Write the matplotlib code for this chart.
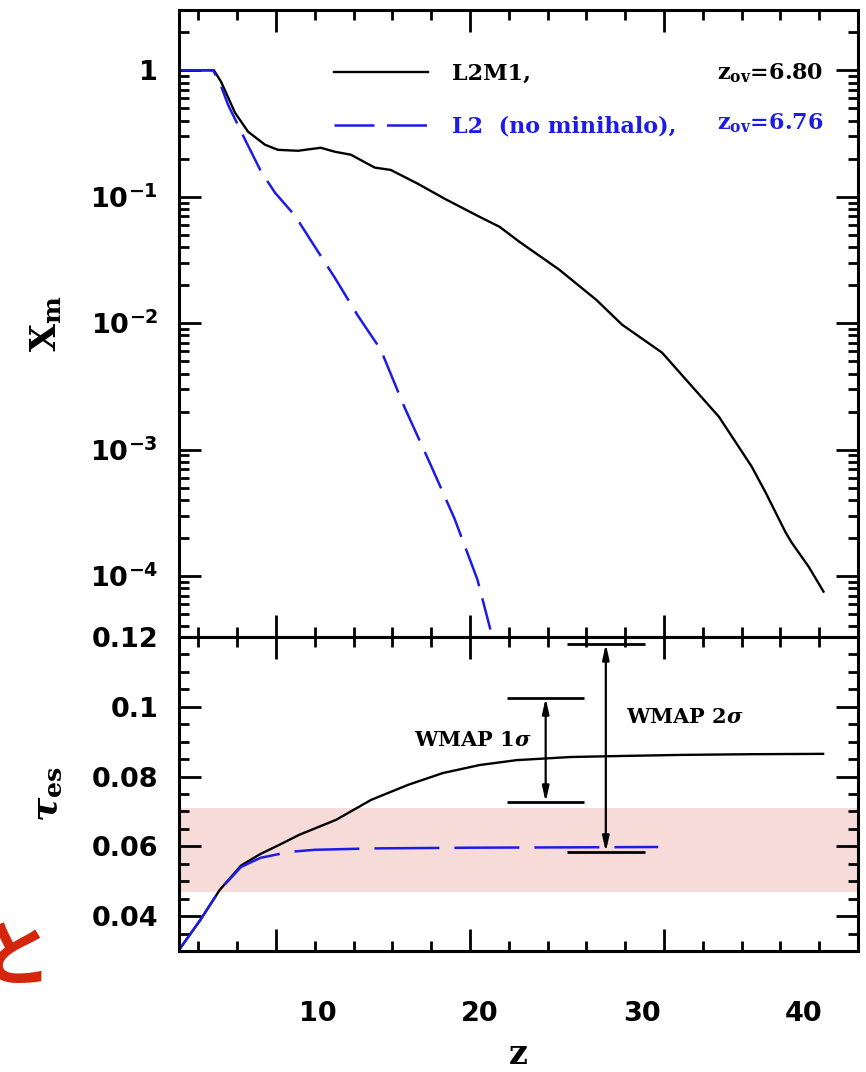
import numpy as np
import matplotlib
matplotlib.use('Agg')
import matplotlib.pyplot as plt
from matplotlib.ticker import MultipleLocator, LogLocator, FuncFormatter, NullFormatter

plt.rcParams['font.family'] = 'DejaVu Sans'
plt.rcParams['font.weight'] = 'bold'
plt.rcParams['mathtext.fontset'] = 'custom'
plt.rcParams['mathtext.rm'] = 'DejaVu Serif'
plt.rcParams['mathtext.it'] = 'DejaVu Serif:italic'
plt.rcParams['mathtext.bf'] = 'DejaVu Serif:bold'
plt.rcParams['mathtext.sf'] = 'DejaVu Sans:bold'

# X_m vs z (top panel)
z_xm_l2m1 = [5.0, 6.8, 7.17, 7.89, 8.56, 9.43, 10.1, 11.13, 12.31, 13.03, 13.86,
             15.09, 15.91, 17.3, 18.69, 20.38, 21.52, 22.54, 24.6, 26.5, 27.84,
             29.9, 31.13, 32.83, 33.5, 34.52, 35.24, 36.27, 36.58, 37.45, 38.22]
xm_l2m1 = [1.0, 1.0, 0.81, 0.461, 0.327, 0.258, 0.235, 0.231, 0.244, 0.227, 0.215,
           0.170, 0.163, 0.127, 0.0965, 0.0708, 0.0579, 0.0441, 0.0265, 0.01534, 0.00973,
           0.00585, 0.00358, 0.00182, 1.27e-3, 7.34e-4, 4.57e-4, 2.21e-4, 1.84e-4, 1.19e-4, 7.54e-5]

z_xm_l2 = [5.0, 6.76, 7.1, 7.53, 8.41, 9.23, 9.95, 10.98, 12.0, 13.03, 14.22,
           15.4, 16.63, 17.97, 19.2, 20.38, 21.05]
xm_l2 = [1.0, 1.0, 0.80, 0.533, 0.282, 0.158, 0.1076, 0.0708, 0.0403, 0.0229, 0.01146,
         0.00617, 0.00215, 7.6e-4, 2.85e-4, 9.4e-5, 3.78e-5]

# tau_es vs z (bottom panel)
z_tau_l2m1 = [5.0, 6.1, 7.1, 8.2, 9.2, 10.2, 11.2, 13.1, 14.9, 16.8, 18.6, 20.5,
              22.4, 25.2, 27.9, 30.9, 34.5, 38.2]
tau_l2m1 = [0.0303, 0.0389, 0.0475, 0.0545, 0.0578, 0.0605, 0.0633, 0.0676, 0.0733,
            0.0776, 0.0810, 0.0833, 0.0847, 0.0856, 0.0859, 0.0862, 0.0864, 0.0865]

z_tau_l2 = [5.0, 6.1, 7.1, 8.2, 9.2, 10.7, 12.0, 15.0, 20.0, 25.0, 29.7]
tau_l2 = [0.0303, 0.0389, 0.0475, 0.0541, 0.0567, 0.0584, 0.0590, 0.0594, 0.0596,
          0.0597, 0.0598]

band_lo, band_hi = 0.047, 0.071

# WMAP ranges: z position, low, high, cap half width
wmap_z = [23.9, 27.0]
wmap_lo = [0.0727, 0.0584]
wmap_hi = [0.1025, 0.118]
cap_half = 2.0
wmap_text = [r'WMAP 1$\sigma$', r'WMAP 2$\sigma$']
wmap_text_z = [17.1, 28.05]
wmap_text_tau = [0.0905, 0.0971]

zov_labels = [r'$\mathbf{z_{ov}}$=6.80', r'$\mathbf{z_{ov}}$=6.76']
xtick_vals = [10, 20, 30, 40]

blue = '#1c1ce6'
serif_bold = dict(family='DejaVu Serif', weight='bold')

fig = plt.figure(figsize=(8.66, 10.72), dpi=100)
ax1 = fig.add_axes([0.2067, 0.4058, 0.7841, 0.5849])
ax2 = fig.add_axes([0.2067, 0.1129, 0.7841, 0.2929])

# top panel
ax1.plot(z_xm_l2m1, xm_l2m1, color='k', lw=1.7, label='L2M1,')
ax1.plot(z_xm_l2, xm_l2, color=blue, lw=1.8, dashes=(16, 5), label='L2  (no minihalo),')
ax1.set_yscale('log')
ax1.set_xlim(5, 40)
ax1.set_ylim(3.3e-5, 3.0)
ax1.yaxis.set_major_locator(LogLocator(base=10, numticks=12))
ax1.yaxis.set_minor_locator(LogLocator(base=10, subs=np.arange(2, 10), numticks=12))
ax1.yaxis.set_minor_formatter(NullFormatter())


def xm_fmt(v, pos):
    e = int(round(np.log10(v)))
    return '1' if e == 0 else r'$\mathsf{10^{%d}}$' % e


ax1.yaxis.set_major_formatter(FuncFormatter(xm_fmt))
ax1.set_ylabel(r'$\mathbf{X_m}$', fontsize=26)

leg = ax1.legend(loc='upper left', bbox_to_anchor=(0.228, 0.916), frameon=False,
                 borderpad=0, borderaxespad=0, handlelength=4.25, handletextpad=1.08,
                 labelspacing=1.4, prop=dict(size=16, **serif_bold), labelcolor='linecolor')
ax1.text(0.9485, 0.8995, zov_labels[0], transform=ax1.transAxes, ha='right', va='center',
         fontsize=16, color='k', **serif_bold)
ax1.text(0.9485, 0.8198, zov_labels[1], transform=ax1.transAxes, ha='right', va='center',
         fontsize=16, color=blue, **serif_bold)

# bottom panel
ax2.axhspan(band_lo, band_hi, color='#f6dbd9', lw=0, zorder=0)
ax2.plot(z_tau_l2m1, tau_l2m1, color='k', lw=1.7)
ax2.plot(z_tau_l2, tau_l2, color=blue, lw=1.8, dashes=(26, 6))
for zc, lo, hi in zip(wmap_z, wmap_lo, wmap_hi):
    ax2.hlines([lo, hi], zc - cap_half, zc + cap_half, color='k', lw=2)
    ax2.annotate('', xy=(zc, hi), xytext=(zc, lo),
                 arrowprops=dict(arrowstyle='<|-|>,head_length=0.9,head_width=0.2',
                                 color='k', lw=1.6, shrinkA=0, shrinkB=0))
for txt, zt, tt in zip(wmap_text, wmap_text_z, wmap_text_tau):
    ax2.text(zt, tt, txt, ha='left', va='center', fontsize=15, **serif_bold)

ax2.set_xlim(5, 40)
ax2.set_ylim(0.03, 0.12)
ax2.yaxis.set_major_locator(MultipleLocator(0.02))
ax2.yaxis.set_minor_locator(MultipleLocator(0.005))
ax2.yaxis.set_major_formatter(FuncFormatter(lambda v, p: ('%.2f' % v).rstrip('0')))
ax2.set_ylabel(r'$\tau_{\mathbf{es}}$', fontsize=26)

for ax in (ax1, ax2):
    ax.xaxis.set_major_locator(MultipleLocator(10))
    ax.xaxis.set_minor_locator(MultipleLocator(2))
    ax.tick_params(which='both', direction='in', top=True, right=True, width=2,
                   labelbottom=False, labelsize=19.5, pad=15)
    ax.tick_params(which='major', length=16)
    ax.tick_params(which='minor', length=7.5)
    for s in ax.spines.values():
        s.set_linewidth(2.2)
    ax.yaxis.set_label_coords(-0.17, 0.5)

# the z labels in the source sit offset from the tick marks
sec = ax2.secondary_xaxis('bottom', functions=(lambda z: (19.45 * z - 73.5) / 16.25,
                                               lambda v: (16.25 * v + 73.5) / 19.45))
sec.set_xticks(xtick_vals)
sec.tick_params(length=0, pad=36, labelsize=19.5)
sec.spines['bottom'].set_visible(False)
sec.set_xlabel('z', fontsize=24, labelpad=8, **serif_bold)

fig.text(15 / 866, 1 - 959 / 1072, 'と', color='#d3260c', fontsize=52,
         family=['Noto Sans CJK JP', 'DejaVu Sans'], ha='center', va='center', weight='bold')

fig.savefig('out.png', dpi=100)
